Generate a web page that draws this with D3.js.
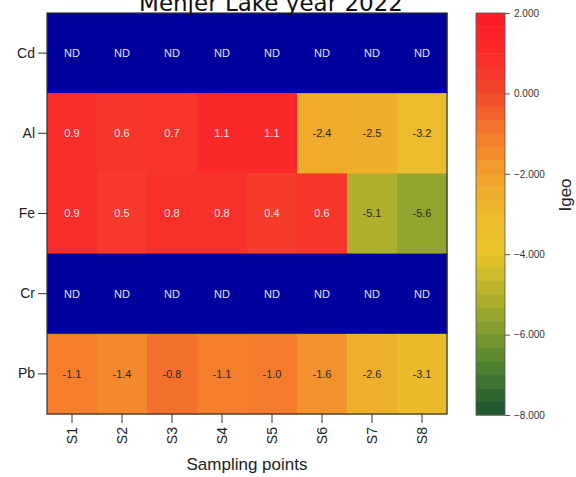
<!DOCTYPE html>
<html>
<head>
<meta charset="utf-8">
<script src="https://cdn.jsdelivr.net/npm/d3@7"></script>
<style>
  body { margin: 0; background: #fff; }
  text { font-family: "Liberation Sans", Arial, sans-serif; }
</style>
</head>
<body>
<div id="chart"></div>
<script>
// data
var elements = ["Cd", "Al", "Fe", "Cr", "Pb"];
var sites = ["S1", "S2", "S3", "S4", "S5", "S6", "S7", "S8"];
var cdValues = [null, null, null, null, null, null, null, null];
var alValues = [0.9, 0.6, 0.7, 1.1, 1.1, -2.4, -2.5, -3.2];
var feValues = [0.9, 0.5, 0.8, 0.8, 0.4, 0.6, -5.1, -5.6];
var crValues = [null, null, null, null, null, null, null, null];
var pbValues = [-1.1, -1.4, -0.8, -1.1, -1.0, -1.6, -2.6, -3.1];
var legendTicks = [2, 0, -2, -4, -6, -8];

var rows = [cdValues, alValues, feValues, crValues, pbValues];

var svgWidth = 576;
var svgHeight = 477;
var margin = { top: 13, right: 129, bottom: 63, left: 47 };
var width = svgWidth - margin.left - margin.right;
var height = svgHeight - margin.top - margin.bottom;

var svg = d3.select("#chart")
  .append("svg")
  .attr("width", svgWidth)
  .attr("height", svgHeight);

var chartGroup = svg.append("g")
  .attr("transform", `translate(${margin.left}, ${margin.top})`);

var xScale = d3.scaleBand().domain(sites).range([0, width]);
var yScale = d3.scaleBand().domain(elements).range([0, height]);

// colour ramp red -> orange -> yellow -> dark green
var colorScale = d3.scaleLinear()
  .domain([2, 1, 0, -1, -2, -3, -4, -5, -6, -7, -8])
  .range(["#ff1a26", "#fa2a2a", "#f2482a", "#f47a2c", "#f2a02c", "#ecba2c",
          "#eac42a", "#b4b22c", "#7c9a30", "#427a30", "#1c5230"])
  .clamp(true);

var cells = [];
rows.forEach(function(vals, i) {
  vals.forEach(function(v, j) {
    cells.push({ el: elements[i], site: sites[j], value: v });
  });
});

chartGroup.selectAll("rect.cell")
  .data(cells)
  .enter()
  .append("rect")
  .attr("class", "cell")
  .attr("x", d => xScale(d.site))
  .attr("y", d => yScale(d.el))
  .attr("width", xScale.bandwidth() + 0.5)
  .attr("height", yScale.bandwidth() + 0.5)
  .attr("fill", d => d.value === null ? "#00009c" : colorScale(d.value));

chartGroup.selectAll("text.cellText")
  .data(cells)
  .enter()
  .append("text")
  .attr("class", "cellText")
  .attr("x", d => xScale(d.site) + xScale.bandwidth() / 2)
  .attr("y", d => yScale(d.el) + yScale.bandwidth() / 2)
  .attr("dy", "0.35em")
  .attr("text-anchor", "middle")
  .attr("font-size", "11px")
  .attr("fill", d => (d.value === null || d.value > 0) ? "#e4e4ee" : "#2e2418")
  .text(d => d.value === null ? "ND" : d.value.toFixed(1));

// frame
chartGroup.append("rect")
  .attr("width", width)
  .attr("height", height)
  .attr("fill", "none")
  .attr("stroke", "#333")
  .attr("stroke-width", 1.2);

var yAxis = chartGroup.append("g")
  .call(d3.axisLeft(yScale).tickSize(9).tickPadding(3));
yAxis.select(".domain").remove();
yAxis.selectAll("text").attr("font-size", "14px").attr("fill", "#222");
yAxis.selectAll("line").attr("stroke", "#333");

var xAxis = chartGroup.append("g")
  .attr("transform", `translate(0, ${height})`)
  .call(d3.axisBottom(xScale).tickSize(9).tickPadding(3));
xAxis.select(".domain").remove();
xAxis.selectAll("line").attr("stroke", "#333");
xAxis.selectAll("text")
  .attr("font-size", "14px")
  .attr("fill", "#222")
  .attr("transform", "rotate(-90)")
  .attr("text-anchor", "end")
  .attr("x", -13)
  .attr("y", 0)
  .attr("dy", "0.35em");

chartGroup.append("text")
  .attr("x", width / 2)
  .attr("y", height + 56)
  .attr("text-anchor", "middle")
  .attr("font-size", "17px")
  .attr("fill", "#222")
  .text("Sampling points");

// title, partly cut off at the top like the original
svg.append("text")
  .attr("x", 271)
  .attr("y", 11)
  .attr("text-anchor", "middle")
  .attr("font-size", "23px")
  .style("font-family", "'DejaVu Sans', Verdana, sans-serif")
  .attr("fill", "#111")
  .text("Menjer Lake year 2022");

// colour bar
var legendX = 476;
var legendW = 29;
var legendScale = d3.scaleLinear().domain([2, -8]).range([margin.top, margin.top + height + 1]);
var nBands = 30;
var bands = d3.range(nBands).map(function(k) {
  var hi = 2 - k * 10 / nBands;
  return { hi: hi, lo: hi - 10 / nBands };
});

var legend = svg.append("g");
legend.selectAll("rect.band")
  .data(bands)
  .enter()
  .append("rect")
  .attr("class", "band")
  .attr("x", legendX)
  .attr("y", d => legendScale(d.hi))
  .attr("width", legendW)
  .attr("height", d => legendScale(d.lo) - legendScale(d.hi) + 0.5)
  .attr("fill", d => colorScale((d.hi + d.lo) / 2));

legend.append("rect")
  .attr("x", legendX)
  .attr("y", legendScale(2))
  .attr("width", legendW)
  .attr("height", legendScale(-8) - legendScale(2))
  .attr("fill", "none")
  .attr("stroke", "#555")
  .attr("stroke-width", 0.8);

var legendAxis = legend.append("g")
  .attr("transform", `translate(${legendX + legendW}, 0)`)
  .call(d3.axisRight(legendScale).tickValues(legendTicks).tickFormat(d3.format(".3f")).tickSize(5).tickPadding(4));
legendAxis.select(".domain").remove();
legendAxis.selectAll("line").attr("stroke", "#555");
legendAxis.selectAll("text").attr("font-size", "10px").attr("fill", "#333");

svg.append("text")
  .attr("transform", "translate(571, 195) rotate(-90)")
  .attr("text-anchor", "middle")
  .attr("font-size", "17px")
  .attr("fill", "#222")
  .text("Igeo");
</script>
</body>
</html>
